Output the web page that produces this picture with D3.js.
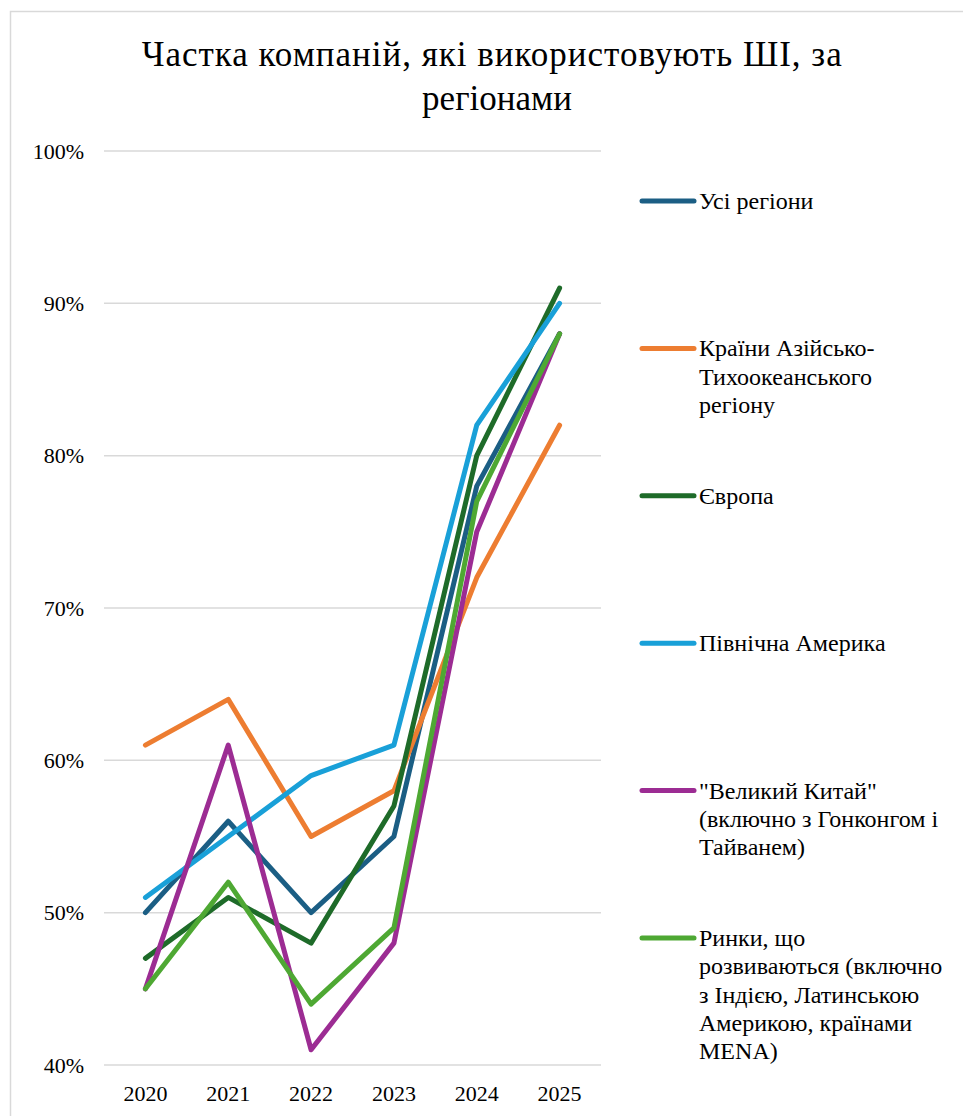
<!DOCTYPE html>
<html>
<head>
<meta charset="utf-8">
<script src="https://cdn.jsdelivr.net/npm/d3@7"></script>
<style>
  body { margin: 0; background: #fff; }
</style>
</head>
<body>
<div id="plot"></div>
<script>
// data
var years = ["2020", "2021", "2022", "2023", "2024", "2025"];
var seriesNames = [
  "Усі регіони",
  "Країни Азійсько-Тихоокеанського регіону",
  "Європа",
  "Північна Америка",
  "\"Великий Китай\" (включно з Гонконгом і Тайванем)",
  "Ринки, що розвиваються (включно з Індією, Латинською Америкою, країнами MENA)"
];
var legendLines = [
  ["Усі регіони"],
  ["Країни Азійсько-", "Тихоокеанського", "регіону"],
  ["Європа"],
  ["Північна Америка"],
  ["\"Великий Китай\"", "(включно з Гонконгом і", "Тайванем)"],
  ["Ринки, що", "розвиваються (включно", "з Індією, Латинською", "Америкою, країнами", "MENA)"]
];
var allRegions = [50, 56, 50, 55, 78, 88];
var asiaPacific = [61, 64, 55, 58, 72, 82];
var europe = [47, 51, 48, 57, 80, 91];
var northAmerica = [51, 55, 59, 61, 82, 90];
var greaterChina = [45, 61, 41, 48, 75, 88];
var emerging = [45, 52, 44, 49, 77, 88];
var yTicks = [40, 50, 60, 70, 80, 90, 100];
var colors = ["#1b5e84", "#ed7d31", "#1e6b29", "#19a0d8", "#9c2c93", "#4ea833"];

var series = [allRegions, asiaPacific, europe, northAmerica, greaterChina, emerging];

var width = 963, height = 1116;
var serif = "'Liberation Serif'";

var svg = d3.select("#plot").append("svg")
    .attr("width", width)
    .attr("height", height);

// frame
svg.append("rect")
    .attr("x", 10.5).attr("y", 11.5)
    .attr("width", 960).attr("height", 1120)
    .attr("fill", "none")
    .attr("stroke", "#d9d9d9")
    .attr("stroke-width", 1.5);

// title
svg.append("text")
    .attr("x", 491.7).attr("y", 66)
    .attr("text-anchor", "middle")
    .attr("textLength", 700)
    .attr("lengthAdjust", "spacing")
    .style("font-family", serif)
    .style("font-size", "35px")
    .text("Частка компаній, які використовують ШІ, за");
svg.append("text")
    .attr("x", 497).attr("y", 110)
    .attr("text-anchor", "middle")
    .style("font-family", serif)
    .style("font-size", "35px")
    .text("регіонами");

var x = d3.scalePoint().domain(years).range([104, 601]).padding(0.5);
var y = d3.scaleLinear().domain([40, 100]).range([1065, 151]);

// gridlines
svg.selectAll(".grid")
    .data(yTicks)
    .enter().append("line")
    .attr("class", "grid")
    .attr("x1", 104).attr("x2", 601)
    .attr("y1", function(d) { return y(d); })
    .attr("y2", function(d) { return y(d); })
    .attr("stroke", "#d9d9d9")
    .attr("stroke-width", 1.5);

// y labels
svg.selectAll(".ylab")
    .data(yTicks)
    .enter().append("text")
    .attr("class", "ylab")
    .attr("x", 84)
    .attr("y", function(d) { return y(d); })
    .attr("dy", "0.35em")
    .attr("text-anchor", "end")
    .style("font-family", serif)
    .style("font-size", "22px")
    .text(function(d) { return d + "%"; });

// x labels
svg.selectAll(".xlab")
    .data(years)
    .enter().append("text")
    .attr("class", "xlab")
    .attr("x", function(d) { return x(d); })
    .attr("y", 1101)
    .attr("text-anchor", "middle")
    .style("font-family", serif)
    .style("font-size", "22px")
    .text(function(d) { return d; });

var line = d3.line()
    .x(function(d, i) { return x(years[i]); })
    .y(function(d) { return y(d); });

svg.selectAll(".series")
    .data(series)
    .enter().append("path")
    .attr("class", "series")
    .attr("d", line)
    .attr("fill", "none")
    .attr("stroke", function(d, i) { return colors[i]; })
    .attr("stroke-width", 5)
    .attr("stroke-linecap", "round")
    .attr("stroke-linejoin", "round");

// legend
var legend = svg.selectAll(".legend")
    .data(seriesNames)
    .enter().append("g")
    .attr("class", "legend")
    .attr("transform", function(d, i) { return "translate(0," + (201 + i * 147.4) + ")"; });

legend.append("line")
    .attr("x1", 642).attr("x2", 694)
    .attr("y1", 0).attr("y2", 0)
    .attr("stroke", function(d, i) { return colors[i]; })
    .attr("stroke-width", 5)
    .attr("stroke-linecap", "round");

legend.each(function(d, i) {
  // slightly widened to match the reference glyph widths
  var t = d3.select(this).append("text")
      .attr("transform", "translate(699,0) scale(1.045,1)")
      .style("font-family", serif)
      .style("font-size", "23px");
  legendLines[i].forEach(function(s, j) {
    t.append("tspan")
      .attr("x", 0)
      .attr("dy", j === 0 ? "0.35em" : 28.3)
      .text(s);
  });
});
</script>
</body>
</html>
